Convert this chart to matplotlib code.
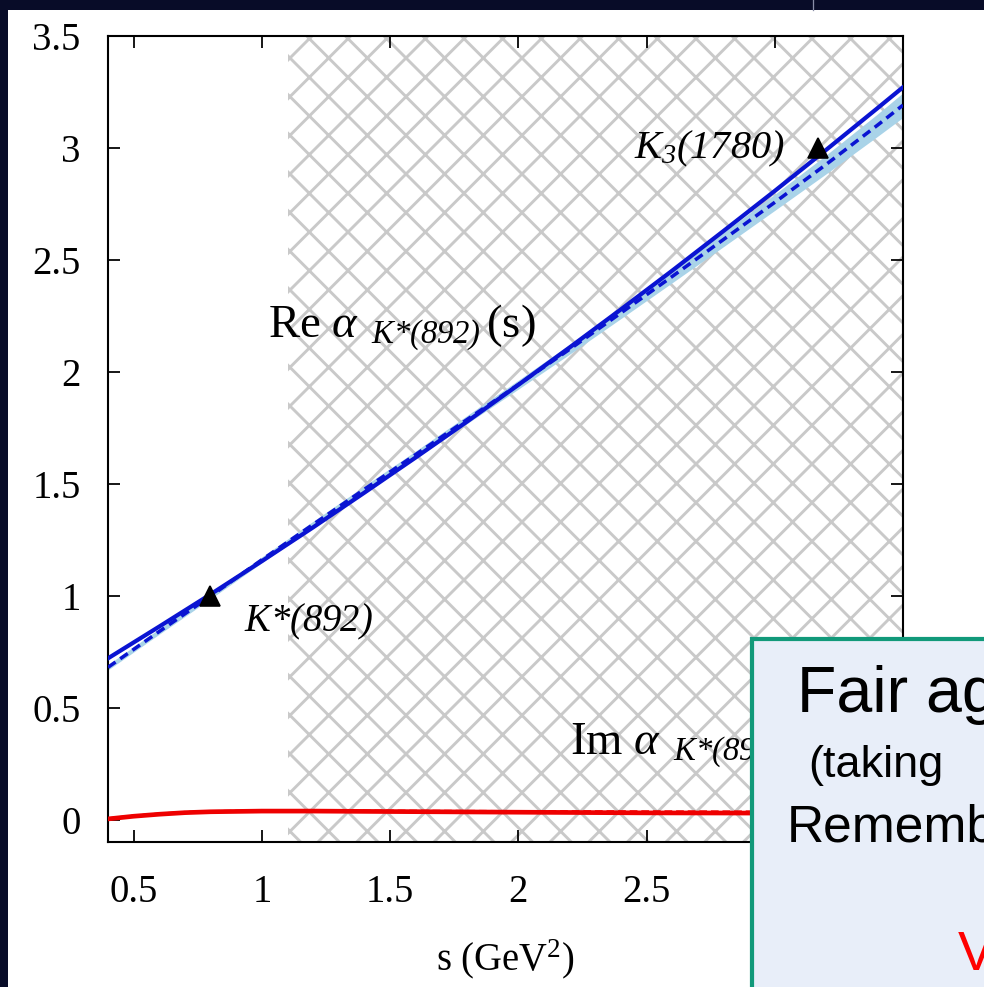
import numpy as np
import matplotlib
matplotlib.use("Agg")
import matplotlib.pyplot as plt
from matplotlib.patches import Rectangle

# Regge trajectory of the K*(892): real and imaginary parts vs s
s_re = [0.4, 0.6, 0.8, 1.0, 1.2, 1.4, 1.6, 1.8, 2.0, 2.2, 2.4, 2.6, 2.8, 3.0, 3.2, 3.4, 3.5]
re_fit = [0.720, 0.862, 1.006, 1.154, 1.305, 1.460, 1.617, 1.777, 1.941, 2.108, 2.278,
          2.451, 2.628, 2.807, 2.990, 3.176, 3.270]
re_alt = [0.680, 0.840, 0.998, 1.160, 1.318, 1.475, 1.630, 1.786, 1.942, 2.100, 2.262,
          2.425, 2.590, 2.756, 2.925, 3.100, 3.190]
re_band_lo = [0.668, 0.828, 0.986, 1.147, 1.304, 1.460, 1.614, 1.768, 1.922, 2.078, 2.237,
              2.397, 2.558, 2.720, 2.883, 3.050, 3.135]
re_band_hi = [0.692, 0.852, 1.010, 1.173, 1.332, 1.490, 1.646, 1.804, 1.962, 2.122, 2.287,
              2.453, 2.622, 2.792, 2.967, 3.150, 3.245]

s_im = [0.4, 0.5, 0.6, 0.7, 0.8, 1.0, 1.2, 1.5, 2.0, 2.5, 3.0, 3.5]
im_fit = [0.003, 0.015, 0.024, 0.031, 0.035, 0.038, 0.038, 0.036, 0.033, 0.030, 0.029, 0.028]
im_alt = [0.005, 0.017, 0.026, 0.033, 0.037, 0.040, 0.040, 0.039, 0.037, 0.036, 0.035, 0.035]

# Resonances on the trajectory: (mass^2, spin)
res_s = [0.796, 3.17]
res_spin = [1.0, 3.0]

hatch_start = 1.1
xticks = [0.5, 1, 1.5, 2, 2.5, 3]
xtick_labels = ["0.5", "1", "1.5", "2", "2.5", "3"]
yticks = [0, 0.5, 1, 1.5, 2, 2.5, 3, 3.5]
ytick_labels = ["0", "0.5", "1", "1.5", "2", "2.5", "3", "3.5"]

DPI = 116
W, H = 984, 987

plt.rcParams["font.family"] = ["Liberation Serif", "DejaVu Serif"]
# italic serif everywhere in math (digits too); \mathsf gives the upright serif
plt.rcParams["mathtext.fontset"] = "custom"
plt.rcParams["mathtext.rm"] = "Liberation Serif:italic"
plt.rcParams["mathtext.it"] = "Liberation Serif:italic"
plt.rcParams["mathtext.sf"] = "Liberation Serif"
plt.rcParams["hatch.linewidth"] = 1.8
plt.rcParams["hatch.color"] = "#c9c9c9"

fig = plt.figure(figsize=(W / DPI, H / DPI), dpi=DPI, facecolor="#080c28")

# white slide area inside the dark frame
fig.patches.append(Rectangle((8 / W, 0), 1, 1 - 10 / H, transform=fig.transFigure,
                             facecolor="white", edgecolor="none", zorder=-1))
fig.add_artist(plt.Line2D([813 / W, 813 / W], [1 - 10 / H, 1], transform=fig.transFigure,
                          color="#8a8fa8", lw=0.8))

ax = fig.add_axes([108 / W, 1 - 842 / H, (903 - 108) / W, (842 - 35.7) / H])
ax.set_facecolor("white")

ax.axvspan(hatch_start, 3.5, facecolor="none", edgecolor="#c9c9c9", hatch="x", linewidth=0, zorder=0)

ax.fill_between(s_re, re_band_lo, re_band_hi, color="#a9d3e8", lw=0, zorder=1)
ax.plot(s_re, re_fit, color="#0a14d2", lw=2.6, zorder=3)
ax.plot(s_re, re_alt, color="#0a14d2", lw=2.2, ls=(0, (2.6, 1.6)), zorder=3)

ax.plot(s_im, im_fit, color="#ee0000", lw=2.9, zorder=3)
ax.plot(s_im, im_alt, color="#ee0000", lw=1.6, ls=(0, (3, 1.5)), zorder=3)

ax.plot(res_s, res_spin, ls="none", marker="^", ms=13, color="black", zorder=4)

ax.text(1.023, 2.153, r"$\mathsf{Re}\ \alpha_{\ \ K{*}(892)}\,\mathsf{(s)}$", fontsize=29, zorder=5)
ax.text(0.93, 0.84, r"$K{*}(892)$", fontsize=24, zorder=5)
ax.text(2.45, 2.95, r"$K_3(1780)$", fontsize=25, zorder=5)
ax.text(2.20, 0.29, r"$\mathsf{Im}\ \alpha_{\ \ K{*}(892)}\,\mathsf{(s)}$", fontsize=29, zorder=5)

ax.set_xlim(0.4, 3.5)
ax.set_ylim(-0.1, 3.5)
ax.set_xticks(xticks)
ax.set_xticklabels(xtick_labels)
ax.set_yticks(yticks)
ax.set_yticklabels(ytick_labels)
ax.tick_params(direction="in", length=7.5, width=1.1, top=True, right=True,
               labelsize=24, pad=17)
ax.tick_params(axis="x", pad=20)
for sp in ax.spines.values():
    sp.set_linewidth(1.3)
ax.set_xlabel(r"s (GeV$^\mathsf{2}$)", fontsize=24, labelpad=16)

# overlaid callout box
fig.patches.append(Rectangle((752 / W, -0.05), 0.5, 1 - 639 / H + 0.05, transform=fig.transFigure,
                             facecolor="#e8eef9", edgecolor="#11997a", lw=2.6, zorder=5))
box_font = ["Liberation Sans", "DejaVu Sans"]
fig.text(797 / W, 1 - 712 / H, "Fair again", fontsize=40, family=box_font, zorder=6)
fig.text(808 / W, 1 - 777 / H, "(taking", fontsize=28, family=box_font, zorder=6)
fig.text(787 / W, 1 - 842 / H, "Remember", fontsize=32, family=box_font, zorder=6)
fig.text(958 / W, 1 - 970 / H, "V", fontsize=34, family=box_font, color="#ff0000", zorder=6)

fig.savefig("out.png", dpi=DPI, facecolor=fig.get_facecolor())
